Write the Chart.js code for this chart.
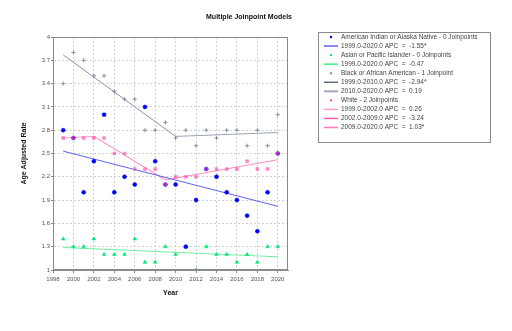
<!DOCTYPE html>
<html>
<head>
<meta charset="utf-8">
<script src="https://cdn.jsdelivr.net/npm/chart.js@4.4.1/dist/chart.umd.min.js"></script>
<style>
html,body{margin:0;padding:0;background:#fff;}
#wrap{width:512px;height:331px;position:relative;}
</style>
</head>
<body>
<div id="wrap"><canvas id="c" width="512" height="331"></canvas></div>
<script>
const years = [1999,2000,2001,2002,2003,2004,2005,2006,2007,2008,2009,2010,2011,2012,2013,2014,2015,2016,2017,2018,2019,2020];
const aianRate  = [2.8,2.7,2.0,2.4,3.0,2.0,2.2,2.1,3.1,2.4,2.1,2.1,1.3,1.9,2.3,2.2,2.0,1.9,1.7,1.5,2.0,2.5];
const apiRate   = [1.4,1.3,1.3,1.4,1.2,1.2,1.2,1.4,1.1,1.1,1.3,1.2,1.3,1.0,1.3,1.2,1.2,1.1,1.2,1.1,1.3,1.3];
const blackRate = [3.4,3.8,3.7,3.5,3.5,3.3,3.2,3.2,2.8,2.8,2.9,2.7,2.8,2.6,2.8,2.7,2.8,2.8,2.6,2.8,2.6,3.0];
const whiteRate = [2.7,2.7,2.7,2.7,2.7,2.5,2.5,2.3,2.3,2.3,2.1,2.2,2.2,2.2,2.3,2.3,2.3,2.3,2.4,2.3,2.3,2.5];

// fitted segment endpoints [startYear, endYear], [startValue, endValue]
const aianFitYears = [1999,2020];   const aianFit = [2.53,1.82];
const apiFitYears  = [1999,2020];   const apiFit  = [1.29,1.17];
const blackFit1Years = [1999,2010]; const blackFit1 = [3.77,2.72];
const blackFit2Years = [2010,2020]; const blackFit2 = [2.72,2.77];
const whiteFit1Years = [1999,2002]; const whiteFit1 = [2.70,2.72];
const whiteFit2Years = [2002,2009]; const whiteFit2 = [2.72,2.16];
const whiteFit3Years = [2009,2020]; const whiteFit3 = [2.16,2.42];

const xTicks = [1998,2000,2002,2004,2006,2008,2010,2012,2014,2016,2018,2020];
const yTicks = [1,1.3,1.6,1.9,2.2,2.5,2.8,3.1,3.4,3.7,4];

const labels = [
  'American Indian or Alaska Native - 0 Joinpoints',
  '1999.0-2020.0 APC  =  -1.55*',
  'Asian or Pacific Islander - 0 Joinpoints',
  '1999.0-2020.0 APC  =  -0.47',
  'Black or African American - 1 Joinpoint',
  '1999.0-2010.0 APC  =  -2.94*',
  '2010.0-2020.0 APC  =  0.19',
  'White - 2 Joinpoints',
  '1999.0-2002.0 APC  =  0.26',
  '2002.0-2009.0 APC  =  -3.24',
  '2009.0-2020.0 APC  =  1.03*'
];

const pts = (xs, ys) => xs.map((x,i)=>({x:x, y:ys[i]}));
const FONT = "'Liberation Sans', Arial, sans-serif";

function pointSet(label, data, style, fill, stroke, r, order, bw, legendColor){
  return {label, data, showLine:false, pointStyle:style, pointRadius:r, pointHoverRadius:r,
    pointBackgroundColor:fill, pointBorderColor:stroke, pointBorderWidth:bw, backgroundColor:fill, borderColor:stroke, order:order, isPoints:true, legendColor};
}
function lineSet(label, data, color, w, lw, legendColor){
  return {label, data, showLine:true, pointRadius:0, borderColor:color, backgroundColor:color, borderWidth:w, legendWidth:lw, legendColor: legendColor || color, fill:false, tension:0, order:5};
}

const datasets = [
  pointSet(labels[0], pts(years, aianRate), 'circle', '#0000ff', '#0000ff', 2.0, 2, 0.5, '#0000ff'),
  lineSet(labels[1], pts(aianFitYears, aianFit), '#6060f0', 1, 1.5),
  pointSet(labels[2], pts(years, apiRate), 'triangle', '#00e676', '#00e676', 2.2, 2, 0.5, '#00e676'),
  lineSet(labels[3], pts(apiFitYears, apiFit), '#70f0a0', 1, 1.5, '#40f080'),
  pointSet(labels[4], pts(years, blackRate), 'cross', '#7a8696', '#7a8696', 2.1, 2, 0.9, '#8a96a6'),
  lineSet(labels[5], pts(blackFit1Years, blackFit1), '#8494a8', 1, 1.3, '#4a5a72'),
  lineSet(labels[6], pts(blackFit2Years, blackFit2), '#98a4b4', 1, 2.2, '#a8b0bc'),
  pointSet(labels[7], pts(years, whiteRate), 'rect', 'rgba(255,40,170,0.55)', 'rgba(255,110,190,0.9)', 2.0, 0, 0.6, '#ff50b0'),
  lineSet(labels[8], pts(whiteFit1Years, whiteFit1), '#ff9cc8', 1, 1.5),
  lineSet(labels[9], pts(whiteFit2Years, whiteFit2), '#ff80b8', 1, 1.5, '#ff5aa5'),
  lineSet(labels[10], pts(whiteFit3Years, whiteFit3), '#ff8cbf', 1, 1.5, '#ff78b4')
];

const frame = {
  id:'frame',
  afterDatasetsDraw(chart){
    const {ctx, chartArea:a} = chart;
    ctx.save();
    ctx.strokeStyle = '#8a8a8a';
    ctx.lineWidth = 1;
    ctx.strokeRect(a.left+0.5, a.top+0.5, a.right-a.left-1, a.bottom-a.top-1);
    ctx.restore();
  }
};

const sideLegend = {
  id:'sideLegend',
  afterDraw(chart){
    const ctx = chart.ctx;
    const L = 318, T = 32, R = 490, B = 142;
    ctx.save();
    ctx.strokeStyle = '#8a8a8a';
    ctx.lineWidth = 1;
    ctx.strokeRect(L+0.5, T+0.5, R-L, B-T);
    ctx.font = '6.5px ' + FONT;
    ctx.textBaseline = 'middle';
    ctx.textAlign = 'left';
    chart.data.datasets.forEach((ds, i) => {
      const y = 37 + i * 9.05;
      if (ds.isPoints) {
        ctx.fillStyle = ds.legendColor;
        ctx.beginPath(); ctx.arc(331, y, 1.2, 0, Math.PI*2); ctx.fill();
      } else {
        ctx.strokeStyle = ds.legendColor;
        ctx.lineWidth = ds.legendWidth;
        ctx.beginPath(); ctx.moveTo(324, y); ctx.lineTo(338, y); ctx.stroke();
      }
      ctx.fillStyle = '#444';
      ctx.fillText(ds.label, 341, y);
    });
    ctx.restore();
  }
};

new Chart(document.getElementById('c'), {
  type:'scatter',
  data:{datasets},
  plugins:[frame, sideLegend],
  options:{
    responsive:false,
    animation:false,
    events:[],
    layout:{padding:{left:0, right:14, top:0, bottom:0}},
    plugins:{
      legend:{display:false},
      tooltip:{enabled:false},
      title:{display:true, text:'Multiple Joinpoint Models', color:'#111',
        font:{family:FONT, size:7, weight:'bold'}, padding:{top:12.8, bottom:15.8}}
    },
    scales:{
      x:{type:'linear', min:1998, max:2021,
        afterBuildTicks(s){ s.ticks = xTicks.map(v=>({value:v})); },
        afterFit(s){ s.height = 61; },
        grid:{color:'#d2d2d2', tickLength:3, tickColor:'#8a8a8a'},
        border:{color:'#8a8a8a', dash:[2,2]},
        ticks:{color:'#555', font:{family:FONT, size:6}, padding:3, maxRotation:0, autoSkip:false,
          callback:(v)=>String(v)},
        title:{display:true, text:'Year', color:'#111', font:{family:FONT, size:7, weight:'bold'}, padding:{top:0, bottom:33.8}}
      },
      y:{type:'linear', min:1, max:4,
        afterBuildTicks(s){ s.ticks = yTicks.map(v=>({value:v})); },
        afterFit(s){ s.width = 53; },
        grid:{color:'#d2d2d2', tickLength:2, tickColor:'#8a8a8a'},
        border:{color:'#8a8a8a', dash:[2,2]},
        ticks:{color:'#555', font:{family:FONT, size:6}, padding:1, autoSkip:false,
          callback:(v)=>String(Math.round(v*10)/10)},
        title:{display:true, text:'Age Adjusted Rate', color:'#111', font:{family:FONT, size:7, weight:'bold'}, padding:{top:19.5, bottom:0}}
      },
      yR:{type:'linear', position:'right', display:true,
        afterFit(s){ s.width = 210; },
        grid:{display:false, drawTicks:false}, border:{display:false},
        ticks:{display:false}
      }
    }
  }
});
</script>
</body>
</html>
